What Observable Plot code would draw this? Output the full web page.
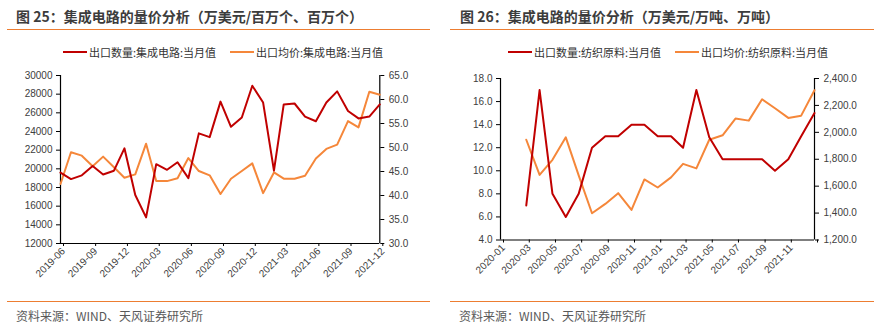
<!DOCTYPE html>
<html><head><meta charset="utf-8">
<script src="https://cdn.jsdelivr.net/npm/d3@7"></script>
<script src="https://cdn.jsdelivr.net/npm/@observablehq/plot@0.6"></script>
<style>
body{margin:0;background:#fff;}
#root{position:relative;width:884px;height:327px;overflow:hidden;font-family:"Noto Sans CJK SC","Noto Sans",sans-serif;}
.title{position:absolute;top:8px;font-size:14px;font-weight:bold;color:#3c3c3c;line-height:16px;white-space:nowrap}
.rule{position:absolute;height:1px;background:#ED7D31;}
.leg{position:absolute;top:46px;font-size:11px;color:#333;line-height:12px;white-space:nowrap;display:flex;align-items:center}
.sw{display:inline-block;width:24px;height:2px;margin-right:2px}
.src{position:absolute;top:309px;font-size:12px;color:#595959;line-height:14px;white-space:nowrap}
.chart{position:absolute;top:62px}
</style>
</head><body>
<div id="root">
  <div class="title" style="left:16px">图 25：集成电路的量价分析（万美元/百万个、百万个）</div>
  <div class="rule" style="left:7px;width:423px;top:29px"></div>
  <div class="leg" style="left:63px"><span class="sw" style="background:#C00000"></span>出口数量:集成电路:当月值</div>
  <div class="leg" style="left:230px"><span class="sw" style="background:#F5873A"></span>出口均价:集成电路:当月值</div>
  <div class="chart" id="c1" style="left:0px"></div>
  <div class="rule" style="left:7px;width:423px;top:301px"></div>
  <div class="src" style="left:16px">资料来源：WIND、天风证券研究所</div>

  <div class="title" style="left:460px">图 26：集成电路的量价分析（万美元/万吨、万吨）</div>
  <div class="rule" style="left:450px;width:424px;top:29px"></div>
  <div class="leg" style="left:508px"><span class="sw" style="background:#C00000"></span>出口数量:纺织原料:当月值</div>
  <div class="leg" style="left:675px"><span class="sw" style="background:#F5873A"></span>出口均价:纺织原料:当月值</div>
  <div class="chart" id="c2" style="left:440px"></div>
  <div class="rule" style="left:450px;width:424px;top:301px"></div>
  <div class="src" style="left:459px">资料来源：WIND、天风证券研究所</div>
</div>
<script>
// ---- Chart 25 data ----
const months25 = ["2019-06","2019-07","2019-08","2019-09","2019-10","2019-11","2019-12",
 "2020-01","2020-02","2020-03","2020-04","2020-05","2020-06","2020-07","2020-08","2020-09","2020-10","2020-11","2020-12",
 "2021-01","2021-02","2021-03","2021-04","2021-05","2021-06","2021-07","2021-08","2021-09","2021-10","2021-11","2021-12"];
const qty25 = [19600,18900,19300,20300,19400,19800,22200,
 17200,14800,20500,19900,20700,19000,23800,23400,27200,24500,25500,28900,
 27100,19800,26900,27000,25600,25100,27100,28300,26200,25400,25600,26900];
const price25 = [42.4,49.0,48.3,46.1,48.1,45.9,43.7,
 44.4,50.8,43.0,43.0,43.6,47.8,45.1,44.2,40.3,43.5,45.1,46.7,
 40.5,44.8,43.5,43.5,44.1,47.7,49.7,50.6,55.5,54.2,61.6,61.0];
const xTicks25 = ["2019-06","2019-09","2019-12","2020-03","2020-06","2020-09","2020-12","2021-03","2021-06","2021-09","2021-12"];
const leftTicks25 = [12000,14000,16000,18000,20000,22000,24000,26000,28000,30000];
const rightTicks25 = [30,35,40,45,50,55,60,65];

// ---- Chart 26 data ----
const months26 = ["2020-03","2020-04","2020-05","2020-06","2020-07","2020-08","2020-09","2020-10","2020-11","2020-12",
 "2021-01","2021-02","2021-03","2021-04","2021-05","2021-06","2021-07","2021-08","2021-09","2021-10","2021-11","2021-12","2022-01"];
const qty26 = [7,17,8,6,8,12,13,13,14,14,
 13,13,12,17,12.9,11,11,11,11,10,11,13,15];
const price26 = [1945,1684,1796,1963,1680,1399,1468,1548,1424,1650,
 1590,1665,1766,1732,1945,1978,2102,2087,2246,2179,2107,2124,2313];
const xTicks26 = ["2020-01","2020-03","2020-05","2020-07","2020-09","2020-11","2021-01","2021-03","2021-05","2021-07","2021-09","2021-11","2022-01"];
const xLabels26 = ["2020-01","2020-03","2020-05","2020-07","2020-09","2020-11","2021-01","2021-03","2021-05","2021-07","2021-09","2021-11",""];
const leftTicks26 = [4,6,8,10,12,14,16,18];
const rightTicks26 = [1200,1400,1600,1800,2000,2200,2400];

const RED = "#C00000", ORANGE = "#F5873A";
const pd = d3.utcParse("%Y-%m");

function dual(o){
  const [l0,l1] = [o.leftTicks[0], o.leftTicks[o.leftTicks.length-1]];
  const [r0,r1] = [o.rightTicks[0], o.rightTicks[o.rightTicks.length-1]];
  const toL = v => l0 + (v - r0) / (r1 - r0) * (l1 - l0);
  const fromL = v => r0 + (v - l0) / (l1 - l0) * (r1 - r0);
  const data = o.months.map((m,i)=>({date: pd(m), q: o.qty[i], p: o.price[i]}));
  const xd = [pd(o.xTicks[0]), pd(o.xTicks[o.xTicks.length-1])];
  const labelOf = new Map(o.xTicks.map((t,i)=>[+pd(t), o.xLabels ? o.xLabels[i] : t]));
  return Plot.plot({
    width: o.width, height: o.height,
    marginLeft: o.mL, marginRight: o.mR, marginTop: o.mT, marginBottom: o.mB,
    style: {fontFamily: "'Liberation Sans', Arial, sans-serif", fontSize: "10px", color: "#404040", background: "transparent"},
    x: {type: "utc", domain: xd, label: null},
    y: {domain: [l0, l1], label: null},
    marks: [
      Plot.axisY(o.leftTicks, {anchor: "left", label: null, tickSize: 4, tickPadding: 4, tickFormat: o.lFmt, stroke: "#000", fill: "#404040"}),
      Plot.axisY(o.rightTicks.map(toL), {anchor: "right", label: null, tickSize: 4, tickPadding: 5, tickFormat: d => o.rFmt(fromL(d)), stroke: "#000", fill: "#404040"}),
      Plot.axisX(o.xTicks.map(pd), {anchor: "bottom", label: null, tickSize: 3, tickPadding: 3, tickRotate: -45, dx: 3, tickFormat: d => labelOf.get(+d), stroke: "#000", fill: "#404040"}),
      Plot.ruleX([xd[0]], {stroke: "#000", strokeWidth: 1.2}),
      Plot.ruleX([xd[1]], {stroke: "#000", strokeWidth: 1.2}),
      Plot.ruleY([l0], {stroke: "#000", strokeWidth: 1.2}),
      Plot.line(data, {x: "date", y: d => toL(d.p), stroke: ORANGE, strokeWidth: 2}),
      Plot.line(data, {x: "date", y: "q", stroke: RED, strokeWidth: 2})
    ]
  });
}

document.getElementById("c1").append(dual({
  months: months25, qty: qty25, price: price25, xTicks: xTicks25,
  leftTicks: leftTicks25, rightTicks: rightTicks25,
  lFmt: d3.format("d"), rFmt: d3.format(".1f"),
  width: 440, height: 238, mL: 60, mR: 60.7, mT: 13, mB: 57
}));
document.getElementById("c2").append(dual({
  months: months26, qty: qty26, price: price26, xTicks: xTicks26, xLabels: xLabels26,
  leftTicks: leftTicks26, rightTicks: rightTicks26,
  lFmt: d3.format(".1f"), rFmt: d3.format(",.1f"),
  width: 444, height: 238, mL: 60, mR: 70, mT: 16, mB: 60.5
}));
</script>
</body></html>
